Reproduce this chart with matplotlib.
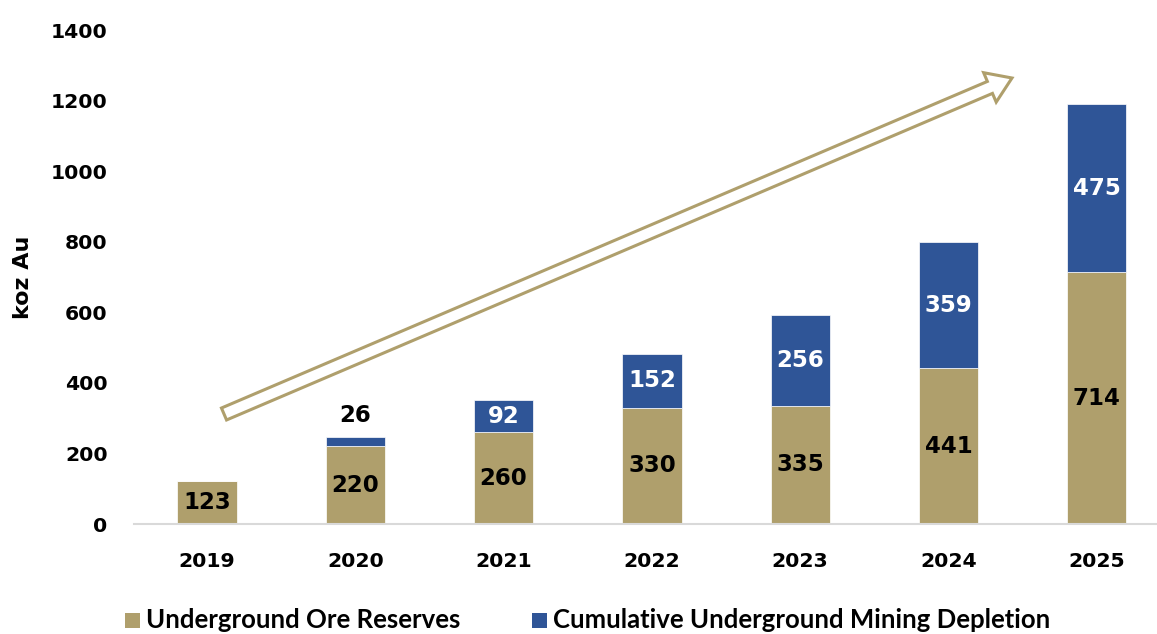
import matplotlib
matplotlib.use("Agg")
import matplotlib.pyplot as plt
from matplotlib.patches import FancyArrow, Rectangle
from matplotlib.transforms import IdentityTransform

years = ["2019", "2020", "2021", "2022", "2023", "2024", "2025"]
reserves = [123, 220, 260, 330, 335, 441, 714]
depletion = [0, 26, 92, 152, 256, 359, 475]
yticks = [0, 200, 400, 600, 800, 1000, 1200, 1400]
series_names = ["Underground Ore Reserves", "Cumulative Underground Mining Depletion"]

GOLD = "#AF9F6C"
BLUE = "#2F5597"
FONT = "DejaVu Sans"

fig = plt.figure(figsize=(11.57, 6.34), dpi=100)
ax = fig.add_axes([134/1157, 110/634, (1157-134)/1157, (524-30)/634])

x = list(range(len(years)))
w = 0.4
ax.bar(x, reserves, width=w, color=GOLD, edgecolor="white", linewidth=0.5)
ax.bar(x, depletion, width=w, bottom=reserves, color=BLUE, edgecolor="white", linewidth=0.5)

for i in x:
    ax.text(i, reserves[i] / 2, str(reserves[i]), ha="center", va="center",
            fontsize=16.5, fontweight="bold", color="black", family=FONT)
    d = depletion[i]
    if d <= 0:
        continue
    if d < 50:
        ax.text(i, reserves[i] + d + 30, str(d), ha="center", va="bottom",
                fontsize=16.5, fontweight="bold", color="black", family=FONT)
    else:
        ax.text(i, reserves[i] + d / 2, str(d), ha="center", va="center",
                fontsize=16.5, fontweight="bold", color="white", family=FONT)

ax.set_ylim(0, 1400)
ax.set_xlim((134 - 207) / 148.3, (1157 - 207) / 148.3)
ax.set_yticks(yticks)
ax.set_yticklabels([str(t) for t in yticks], fontsize=14.7, fontweight="bold", family=FONT)
ax.set_xticks(x)
ax.set_xticklabels(years, fontsize=14.7, fontweight="bold", family=FONT)
ax.tick_params(axis="both", length=0)
ax.tick_params(axis="y", pad=19)
ax.tick_params(axis="x", pad=20)
for s in ["top", "right", "left"]:
    ax.spines[s].set_visible(False)
ax.spines["bottom"].set_color("#D9D9D9")
ax.spines["bottom"].set_linewidth(1.5)
ax.set_ylabel("koz Au", fontsize=16, fontweight="bold", family=FONT)
ax.yaxis.set_label_coords(-0.099, 0.5)

# Hollow trend arrow (pixel coordinates, origin bottom-left)
tail = (224, 634 - 414)
tip = (1012, 634 - 78)
arr = FancyArrow(tail[0], tail[1], tip[0] - tail[0], tip[1] - tail[1],
                 width=13, head_width=32, head_length=24, length_includes_head=True,
                 transform=IdentityTransform(), facecolor="white", edgecolor=GOLD,
                 linewidth=2.2, zorder=5)
fig.add_artist(arr)

# Legend
leg_items = [(125, GOLD, series_names[0]), (532, BLUE, series_names[1])]
for px, col, name in leg_items:
    fig.add_artist(Rectangle((px / 1157, (634 - 628) / 634), 15 / 1157, 15 / 634,
                             transform=fig.transFigure, facecolor=col, edgecolor="none"))
    fig.text((px + 21) / 1157, (634 - 628) / 634, name, fontsize=18.5, fontweight="bold",
             family="Lato", va="baseline", ha="left")

fig.savefig("out.png", dpi=100)
